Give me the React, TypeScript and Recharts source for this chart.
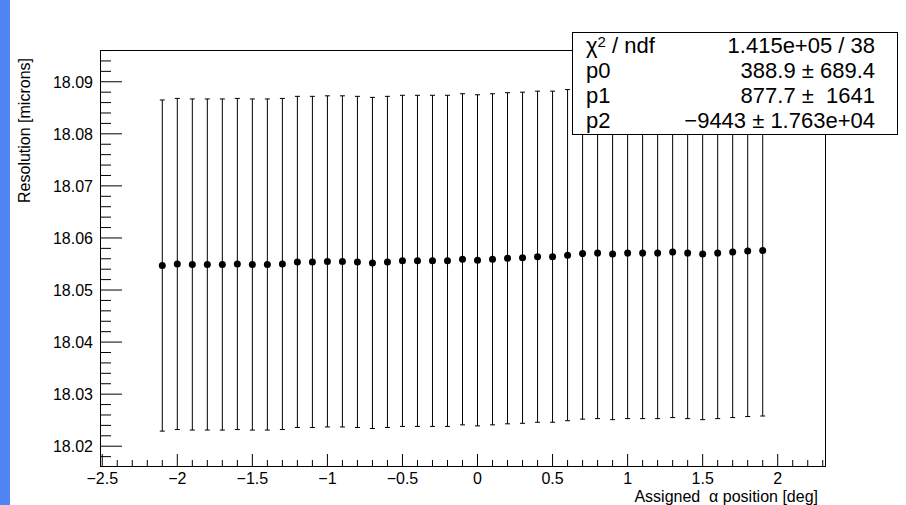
import React from "react";
import { ScatterChart, Scatter, XAxis, YAxis, ErrorBar } from "recharts";

// assigned alpha positions [deg]
const POSITIONS = [
  -2.1, -2.0, -1.9, -1.8, -1.7, -1.6, -1.5, -1.4, -1.3, -1.2, -1.1, -1.0, -0.9, -0.8,
  -0.7, -0.6, -0.5, -0.4, -0.3, -0.2, -0.1, 0.0, 0.1, 0.2, 0.3, 0.4, 0.5, 0.6, 0.7,
  0.8, 0.9, 1.0, 1.1, 1.2, 1.3, 1.4, 1.5, 1.6, 1.7, 1.8, 1.9,
];

// resolution [microns]
const RESOLUTION = [
  18.0547, 18.055, 18.0549, 18.0549, 18.0549, 18.055, 18.0549, 18.0549, 18.055, 18.0554,
  18.0554, 18.0555, 18.0555, 18.0554, 18.0552, 18.0554, 18.0556, 18.0556, 18.0556, 18.0556,
  18.0559, 18.0557, 18.0559, 18.0561, 18.0562, 18.0564, 18.0564, 18.0567, 18.057, 18.0571,
  18.0569, 18.0571, 18.0571, 18.0571, 18.0573, 18.0571, 18.0569, 18.0571, 18.0573, 18.0575,
  18.0576,
];

// symmetric y errors
const ERRORS = [
  0.0318, 0.0318, 0.0318, 0.0318, 0.0318, 0.0318, 0.0318, 0.0318, 0.0318, 0.0318,
  0.0318, 0.0318, 0.0318, 0.0318, 0.0318, 0.0318, 0.0318, 0.0318, 0.0318, 0.0318,
  0.0318, 0.0318, 0.0318, 0.0318, 0.0318, 0.0318, 0.0318, 0.0318, 0.0318, 0.0318,
  0.0318, 0.0318, 0.0318, 0.0318, 0.0318, 0.0318, 0.0318, 0.0318, 0.0318, 0.0318,
  0.0318,
];

const X_MAJOR = [-2.5, -2, -1.5, -1, -0.5, 0, 0.5, 1, 1.5, 2];
const Y_MAJOR = [18.02, 18.03, 18.04, 18.05, 18.06, 18.07, 18.08, 18.09];

const STATS = [
  ["p0", "388.9 \u00b1 689.4"],
  ["p1", "877.7 \u00b1  1641"],
  ["p2", "\u22129443 \u00b1 1.763e+04"],
];

const data = POSITIONS.map((x, i) => ({ x, y: RESOLUTION[i], err: ERRORS[i] }));

// minor ticks every 0.1 deg / 0.002 micron
const xTicks: number[] = [];
for (let k = -25; k <= 23; k++) xTicks.push(Math.round(k * 10) / 100);
const yTicks: number[] = [];
for (let k = 0; k <= 39; k++) yTicks.push(Math.round((18.018 + k * 0.002) * 10000) / 10000);

const isIn = (v: number, list: number[]) => list.some((m) => Math.abs(m - v) < 1e-6);
const fmt = (v: number) => String(v).replace("-", "\u2212");

const FONT = "'Liberation Sans', Arial, Helvetica, sans-serif";

const renderXTick = (props: any) => {
  const { x, y, payload } = props;
  const major = isIn(payload.value, X_MAJOR);
  return (
    <g key={`xt-${payload.value}`}>
      <line x1={x} x2={x} y1={y} y2={y - (major ? 12 : 6)} stroke="#000" strokeWidth={1} />
      {major && (
        <text x={x} y={y + 17.5} textAnchor="middle" fontSize={16} fontFamily={FONT} fill="#000">
          {fmt(payload.value)}
        </text>
      )}
    </g>
  );
};

const renderYTick = (props: any) => {
  const { x, y, payload } = props;
  const major = isIn(payload.value, Y_MAJOR);
  return (
    <g key={`yt-${payload.value}`}>
      <line x1={x} x2={x + (major ? 22 : 11)} y1={y} y2={y} stroke="#000" strokeWidth={1} />
      {major && (
        <text x={x - 7} y={y} dy="0.36em" textAnchor="end" fontSize={16} fontFamily={FONT} fill="#000">
          {payload.value.toFixed(2)}
        </text>
      )}
    </g>
  );
};

const Dot = (props: any) => <circle cx={props.cx} cy={props.cy} r={3.5} fill="#000" />;

export default function App() {
  return (
    <div style={{ position: "absolute", left: 0, top: 0, width: 906, height: 505, background: "#fff", fontFamily: FONT }}>
      <div style={{ position: "absolute", left: 0, top: 0, width: 10, height: 505, background: "#5085f2" }} />
      <div style={{ position: "absolute", left: 0, top: 0 }}>
        <ScatterChart width={906} height={505} margin={{ top: 50, right: 81, bottom: 9, left: 40 }}>
          <XAxis
            type="number"
            dataKey="x"
            domain={[-2.515, 2.315]}
            allowDataOverflow
            ticks={xTicks}
            interval={0}
            height={30}
            tickSize={0}
            tickMargin={0}
            tickLine={false}
            axisLine={false}
            tick={renderXTick}
          />
          <YAxis
            type="number"
            dataKey="y"
            domain={[18.0162, 18.0961]}
            allowDataOverflow
            ticks={yTicks}
            interval={0}
            width={60}
            tickSize={0}
            tickMargin={0}
            tickLine={false}
            axisLine={false}
            tick={renderYTick}
          />
          <Scatter data={data} shape={<Dot />} isAnimationActive={false}>
            <ErrorBar dataKey="err" direction="y" width={2.5} stroke="#000" strokeWidth={1} isAnimationActive={false} />
          </Scatter>
        </ScatterChart>
      </div>
      <svg width={906} height={505} style={{ position: "absolute", left: 0, top: 0, pointerEvents: "none" }}>
        <rect x={100.5} y={50.5} width={725} height={416} fill="none" stroke="#000" strokeWidth={1} />
        <text transform="translate(30,58) rotate(-90)" textAnchor="end" fontSize={16} fontFamily={FONT} fill="#000">
          Resolution [microns]
        </text>
        <text x={818} y={502} textAnchor="end" fontSize={16} fontFamily={FONT} fill="#000" style={{ whiteSpace: "pre" }}>
          {"Assigned  \u03b1 position [deg]"}
        </text>
      </svg>
      <div
        style={{
          position: "absolute",
          left: 572,
          top: 32,
          width: 326,
          height: 103,
          boxSizing: "border-box",
          border: "1px solid #000",
          background: "#fff",
          fontSize: 22,
          color: "#000",
          padding: "0 22px 0 13px",
        }}
      >
        <div style={{ height: 25.25, display: "flex", justifyContent: "space-between", alignItems: "center", whiteSpace: "pre" }}>
          <span>
            {"\u03c7"}
            <sup style={{ fontSize: 15, verticalAlign: "6px", lineHeight: 0 }}>2</sup>
            {" / ndf"}
          </span>
          <span>1.415e+05 / 38</span>
        </div>
        {STATS.map(([name, val]) => (
          <div key={name} style={{ height: 25.25, display: "flex", justifyContent: "space-between", alignItems: "center", whiteSpace: "pre" }}>
            <span>{name}</span>
            <span>{val}</span>
          </div>
        ))}
      </div>
    </div>
  );
}
